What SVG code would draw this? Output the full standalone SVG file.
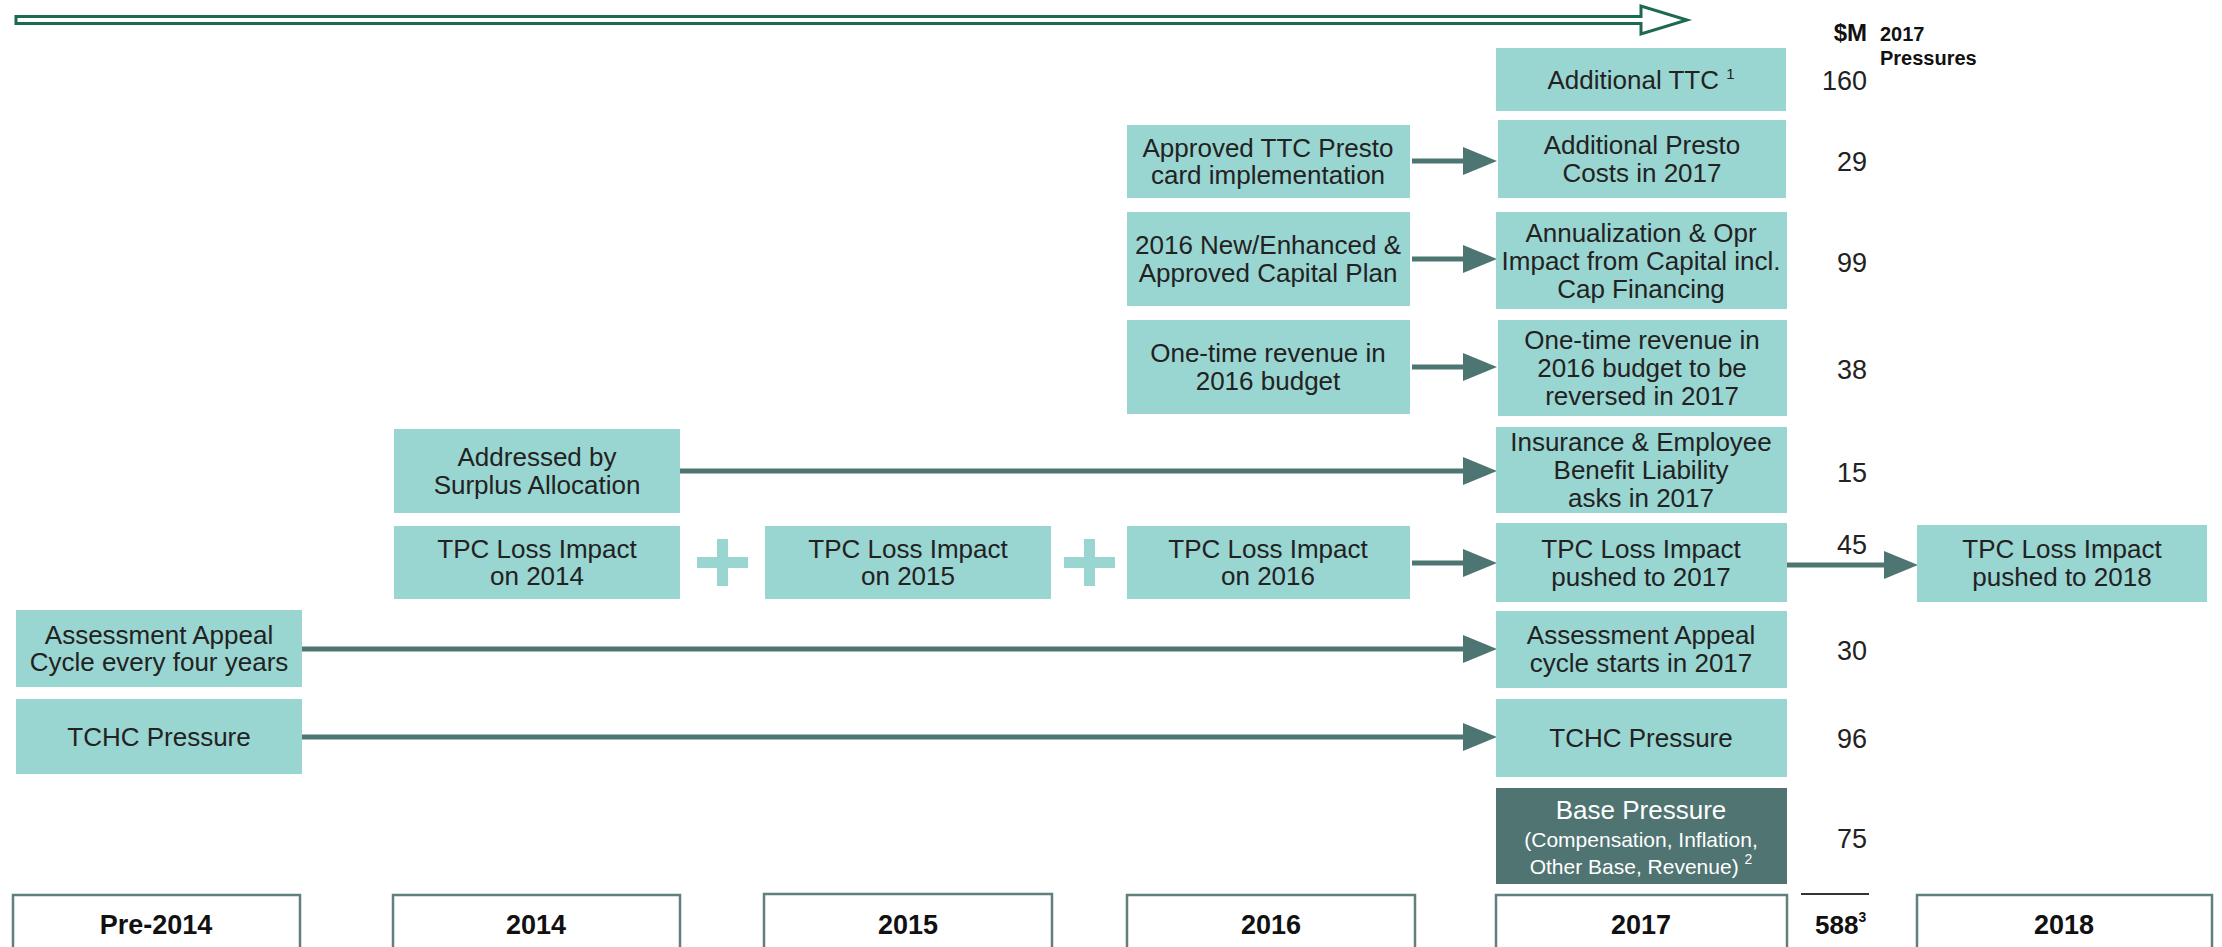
<svg xmlns="http://www.w3.org/2000/svg" width="2222" height="947" viewBox="0 0 2222 947">
<style>
.b{fill:#99d5d1}
.d{fill:#4f7471}
.yb{fill:#fff;stroke:#5f807d;stroke-width:2.5}
text{font-family:"Liberation Sans",Arial,sans-serif}
.t{font-size:26px;fill:#222;text-anchor:middle}
.w{fill:#fff;text-anchor:middle}
.n{font-size:27px;fill:#222;text-anchor:end}
.y{font-size:27px;font-weight:bold;fill:#111;text-anchor:middle}
.h{font-weight:bold;fill:#111}
.c{stroke:#4d7572;stroke-width:5;fill:none;marker-end:url(#ah)}
.p{fill:#99d5d1}
</style>
<defs>
<marker id="ah" markerUnits="userSpaceOnUse" markerWidth="36" markerHeight="30" refX="0" refY="14" orient="auto">
<path d="M0,0 L34,14 L0,28 z" fill="#4d7572"/>
</marker>
</defs>
<rect width="2222" height="947" fill="#fff"/>

<g id="timeline">
<polygon points="16,16.5 1641,16.5 1641,6 1687,20 1641,34 1641,23.5 16,23.5" fill="#fff" stroke="#1d6a53" stroke-width="3"/>
</g>

<g id="header">
<text class="h" x="1867" y="41" font-size="24" text-anchor="end">$M</text>
<text class="h" x="1880" y="41" font-size="20">2017</text>
<text class="h" x="1880" y="65" font-size="20">Pressures</text>
</g>

<g id="connectors">
<line class="c" x1="1412" y1="161" x2="1463" y2="161"/>
<line class="c" x1="1412" y1="259" x2="1463" y2="259"/>
<line class="c" x1="1412" y1="367" x2="1463" y2="367"/>
<line class="c" x1="679" y1="471" x2="1463" y2="471"/>
<line class="c" x1="1412" y1="563" x2="1463" y2="563"/>
<line class="c" x1="1787" y1="565" x2="1884" y2="565"/>
<line class="c" x1="302" y1="649" x2="1463" y2="649"/>
<line class="c" x1="302" y1="737" x2="1463" y2="737"/>
</g>

<g id="plus1">
<rect class="p" x="697" y="557" width="51" height="11"/>
<rect class="p" x="717" y="539" width="11" height="47"/>
</g>
<g id="plus2">
<rect class="p" x="1064" y="557" width="51" height="11"/>
<rect class="p" x="1084" y="539" width="11" height="47"/>
</g>

<g id="n-ttc">
<rect class="b" x="1496" y="48" width="290" height="63"/>
<text class="t" x="1641" y="89">Additional TTC <tspan font-size="15" dy="-10">1</tspan></text>
</g>
<g id="n-presto16">
<rect class="b" x="1127" y="125" width="283" height="73"/>
<text class="t" x="1268" y="157">Approved TTC Presto</text>
<text class="t" x="1268" y="184">card implementation</text>
</g>
<g id="n-presto17">
<rect class="b" x="1498" y="120" width="288" height="78"/>
<text class="t" x="1642" y="154">Additional Presto</text>
<text class="t" x="1642" y="182">Costs in 2017</text>
</g>
<g id="n-capital16">
<rect class="b" x="1127" y="212" width="283" height="94"/>
<text class="t" x="1268" y="254">2016 New/Enhanced &amp;</text>
<text class="t" x="1268" y="282">Approved Capital Plan</text>
</g>
<g id="n-capital17">
<rect class="b" x="1496" y="212" width="291" height="97"/>
<text class="t" x="1641" y="242">Annualization &amp; Opr</text>
<text class="t" x="1641" y="270">Impact from Capital incl.</text>
<text class="t" x="1641" y="298">Cap Financing</text>
</g>
<g id="n-onetime16">
<rect class="b" x="1127" y="320" width="283" height="94"/>
<text class="t" x="1268" y="362">One-time revenue in</text>
<text class="t" x="1268" y="390">2016 budget</text>
</g>
<g id="n-onetime17">
<rect class="b" x="1498" y="320" width="289" height="96"/>
<text class="t" x="1642" y="349">One-time revenue in</text>
<text class="t" x="1642" y="377">2016 budget to be</text>
<text class="t" x="1642" y="405">reversed in 2017</text>
</g>
<g id="n-surplus">
<rect class="b" x="394" y="429" width="286" height="84"/>
<text class="t" x="537" y="466">Addressed by</text>
<text class="t" x="537" y="494">Surplus Allocation</text>
</g>
<g id="n-insurance">
<rect class="b" x="1496" y="427" width="291" height="86"/>
<text class="t" x="1641" y="451">Insurance &amp; Employee</text>
<text class="t" x="1641" y="479">Benefit Liability</text>
<text class="t" x="1641" y="507">asks in 2017</text>
</g>
<g id="n-tpc14">
<rect class="b" x="394" y="526" width="286" height="73"/>
<text class="t" x="537" y="558">TPC Loss Impact</text>
<text class="t" x="537" y="585">on 2014</text>
</g>
<g id="n-tpc15">
<rect class="b" x="765" y="526" width="286" height="73"/>
<text class="t" x="908" y="558">TPC Loss Impact</text>
<text class="t" x="908" y="585">on 2015</text>
</g>
<g id="n-tpc16">
<rect class="b" x="1127" y="526" width="283" height="73"/>
<text class="t" x="1268" y="558">TPC Loss Impact</text>
<text class="t" x="1268" y="585">on 2016</text>
</g>
<g id="n-tpc17">
<rect class="b" x="1496" y="523" width="291" height="79"/>
<text class="t" x="1641" y="558">TPC Loss Impact</text>
<text class="t" x="1641" y="586">pushed to 2017</text>
</g>
<g id="n-tpc18">
<rect class="b" x="1917" y="525" width="290" height="77"/>
<text class="t" x="2062" y="558">TPC Loss Impact</text>
<text class="t" x="2062" y="586">pushed to 2018</text>
</g>
<g id="n-assess-pre">
<rect class="b" x="16" y="610" width="286" height="77"/>
<text class="t" x="159" y="644">Assessment Appeal</text>
<text class="t" x="159" y="671">Cycle every four years</text>
</g>
<g id="n-assess17">
<rect class="b" x="1496" y="611" width="291" height="77"/>
<text class="t" x="1641" y="644">Assessment Appeal</text>
<text class="t" x="1641" y="672">cycle starts in 2017</text>
</g>
<g id="n-tchc-pre">
<rect class="b" x="16" y="699" width="286" height="75"/>
<text class="t" x="159" y="746">TCHC Pressure</text>
</g>
<g id="n-tchc17">
<rect class="b" x="1496" y="699" width="291" height="78"/>
<text class="t" x="1641" y="747">TCHC Pressure</text>
</g>
<g id="n-base">
<rect class="d" x="1496" y="788" width="291" height="96"/>
<text class="w" x="1641" y="819" font-size="26">Base Pressure</text>
<text class="w" x="1641" y="847" font-size="21">(Compensation, Inflation,</text>
<text class="w" x="1641" y="874" font-size="21">Other Base, Revenue) <tspan font-size="14" dy="-10">2</tspan></text>
</g>

<g id="values">
<text class="n" x="1867" y="90">160</text>
<text class="n" x="1867" y="171">29</text>
<text class="n" x="1867" y="272">99</text>
<text class="n" x="1867" y="379">38</text>
<text class="n" x="1867" y="482">15</text>
<text class="n" x="1867" y="554">45</text>
<text class="n" x="1867" y="660">30</text>
<text class="n" x="1867" y="748">96</text>
<text class="n" x="1867" y="848">75</text>
</g>

<g id="total">
<line x1="1801" y1="894" x2="1869" y2="894" stroke="#333" stroke-width="2"/>
<text class="h" x="1815" y="934" font-size="26">588<tspan font-size="14" dy="-12">3</tspan></text>
</g>

<g id="y-pre">
<rect class="yb" x="13" y="895" width="287" height="70"/>
<text class="y" x="156" y="934">Pre-2014</text>
</g>
<g id="y-2014">
<rect class="yb" x="393" y="895" width="287" height="70"/>
<text class="y" x="536" y="934">2014</text>
</g>
<g id="y-2015">
<rect class="yb" x="764" y="894" width="288" height="70"/>
<text class="y" x="908" y="934">2015</text>
</g>
<g id="y-2016">
<rect class="yb" x="1127" y="895" width="288" height="70"/>
<text class="y" x="1271" y="934">2016</text>
</g>
<g id="y-2017">
<rect class="yb" x="1496" y="895" width="291" height="70"/>
<text class="y" x="1641" y="934">2017</text>
</g>
<g id="y-2018">
<rect class="yb" x="1917" y="895" width="295" height="70"/>
<text class="y" x="2064" y="934">2018</text>
</g>
</svg>
